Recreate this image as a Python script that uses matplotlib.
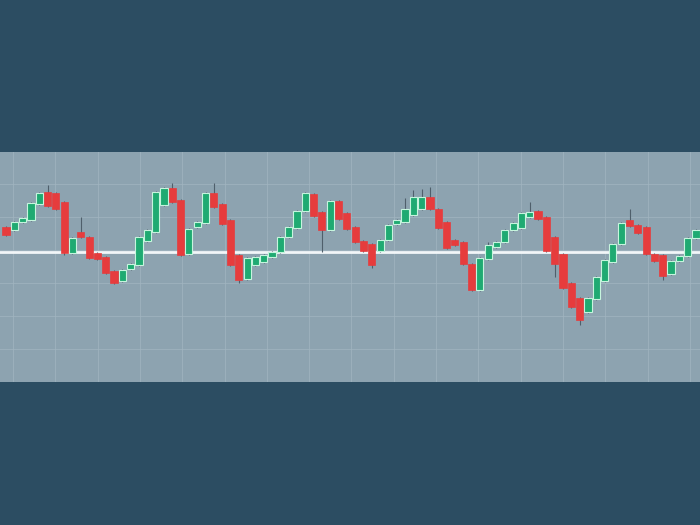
#
# candlestick strip on a dark backdrop
#

import numpy as np
import matplotlib.pyplot as plt

# price per candle (white base line sits at 0)
opens  = [25, 22, 30, 32, 48, 60, 59, 50, -1, 20, 15, -1, -5, -19, -29, -17, -13, 11, 20, 47,
          64, 52, -2, 25, 29, 59, 48, 32, -3, -27, -13, -10, -5, 0, 15, 24, 41, 58, 40, 22,
          51, 39, 25, 11, 8, 1, 12, 28, 30, 37, 43, 55, 43, 30, 12, 10, -12, -38, -7, 5,
          10, 22, 24, 35, 41, 35, 15, -2, -31, -46, -60, -47, -29, -10, 8, 32, 27, 25, -2, -3,
          -22, -9, -4, 14]
closes = [17, 30, 34, 49, 59, 46, 43, -1, 14, 15, -6, -7, -21, -31, -18, -12, 15, 22, 60, 64,
          50, -3, 23, 30, 59, 45, 28, -13, -28, -6, -5, -3, 0, 15, 25, 41, 59, 36, 22, 51,
          33, 23, 10, 1, -13, 12, 27, 32, 43, 55, 55, 43, 24, 4, 7, -12, -38, -6, 7, 10,
          22, 29, 39, 40, 33, 1, -12, -36, -55, -68, -46, -25, -8, 8, 29, 26, 19, -2, -9, -24,
          -9, -4, 14, 22]
highs  = [26, 31, 35, 50, 60, 67, 60, 51, 15, 35, 16, 0, -4, -18, -17, -11, 16, 23, 61, 65,
          69, 53, 24, 31, 60, 69, 49, 33, -2, -5, -4, -2, 1, 16, 26, 42, 60, 59, 41, 52,
          52, 40, 26, 12, 9, 13, 28, 33, 54, 62, 63, 65, 44, 31, 13, 11, -11, -5, 10, 11,
          23, 30, 40, 50, 42, 36, 16, -1, -30, -45, -45, -24, -7, 9, 30, 43, 28, 26, -1, -2,
          -8, -3, 15, 23]
lows   = [16, 21, 29, 31, 47, 45, 42, -3, -2, 14, -7, -8, -22, -32, -30, -18, -14, 10, 19, 46,
          49, -4, -3, 24, 28, 44, 27, -14, -31, -28, -14, -11, -6, -1, 14, 23, 40, 35, 0, 21,
          32, 22, 9, 0, -16, 0, 11, 27, 29, 36, 42, 42, 23, 3, 6, -13, -39, -39, -8, 4,
          9, 21, 23, 34, 32, 0, -25, -37, -56, -73, -61, -48, -30, -11, 7, 25, 18, -3, -10, -28,
          -23, -10, -5, 13]

BG     = '#2c4d62'
BAND   = '#8da3b0'
GRID   = '#a2b5c0'
GREEN  = '#1faa72'
GEDGE  = '#c6f5de'
RED    = '#e63c3d'
WICK   = '#4f5f6b'

x = np.arange(len(opens))
o = np.array(opens)
c = np.array(closes)
up = c >= o

fig = plt.figure(figsize=(7, 5.25), dpi=100, facecolor=BG)
ax = fig.add_axes([0, 143/525, 1, 230/525])
ax.set_facecolor(BAND)

# grid
ax.set_xticks(np.arange(0.84, 84, 5.09))
ax.set_yticks(np.arange(-97, 100, 33))
ax.grid(True, color=GRID, lw=0.8, alpha=0.7)
ax.set_axisbelow(True)

# base line
ax.axhline(0, color='#f2f6f8', lw=2, zorder=2)

# wicks then bodies
ax.vlines(x, lows, highs, color=WICK, lw=0.8, zorder=3)
bottom = np.minimum(o, c)
height = np.maximum(np.abs(c - o), 1)
ax.bar(x[up], height[up], bottom=bottom[up], width=0.86,
       color=GREEN, edgecolor=GEDGE, linewidth=0.8, zorder=4)
ax.bar(x[~up], height[~up], bottom=bottom[~up], width=0.86,
       color=RED, edgecolor=RED, linewidth=0.5, zorder=4)

ax.set_xlim(-0.72, 83.48)
ax.set_ylim(-130, 100)
ax.tick_params(length=0, labelbottom=False, labelleft=False)
for s in ax.spines.values():
    s.set_visible(False)

fig.savefig('out.png', dpi=100, facecolor=BG)
